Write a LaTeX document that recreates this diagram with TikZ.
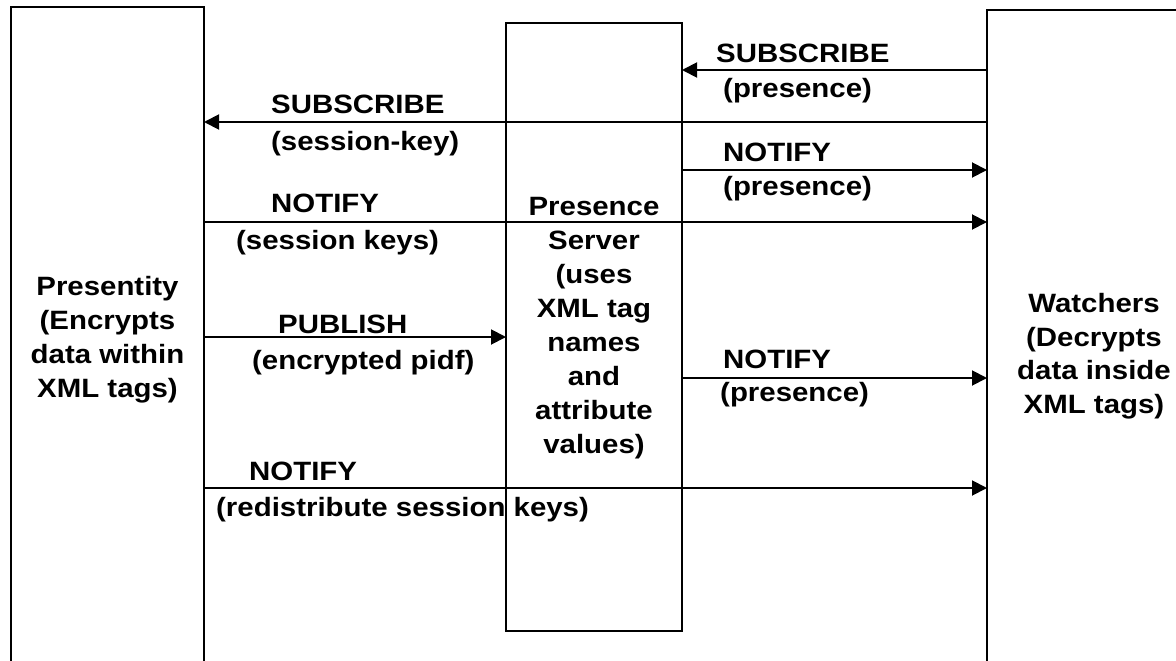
\documentclass[tikz,border=0pt]{standalone}
\usepackage{fontspec}
\setmainfont{Liberation Sans}[FakeStretch=1.11]
\usetikzlibrary{arrows.meta}
\begin{document}
\begin{tikzpicture}[x=1pt,y=-1pt,
  box/.style={draw, line width=1.9pt, inner sep=0pt, outer sep=0pt, anchor=north west},
  msg/.style={line width=1.9pt, -{Triangle[length=15pt,width=15pt]}},
  lbl/.style={font=\fontsize{26.5}{34}\bfseries\selectfont, align=left, inner sep=0pt, anchor=base west},
  boxtxt/.style={font=\fontsize{26.5}{34}\bfseries\selectfont, align=center, inner sep=0pt, anchor=base}]
\useasboundingbox (0,0) rectangle (1176,661);
\clip (0,0) rectangle (1176,661);
% boxes
\node[box, minimum width=193pt, minimum height=700pt] (pres) at (11,7) {};
\node[box, minimum width=176pt, minimum height=608pt] (ps) at (506,23) {};
\node[box, minimum width=250pt, minimum height=700pt] (wat) at (987,10) {};
% box texts (anchor = baseline of last line)
\node[boxtxt] (prest) at (107.5,397) {Presentity\\(Encrypts\\data within\\XML tags)};
\node[boxtxt] (pst) at (594,453) {Presence\\Server\\(uses\\XML tag\\names\\and\\attribute\\values)};
\node[boxtxt, font=\fontsize{26.5}{33.5}\bfseries\selectfont] (watt) at (1094,413) {Watchers\\(Decrypts\\data inside\\XML tags)};
% arrow levels
\coordinate (a1) at (0,70);
\coordinate (a2) at (0,122);
\coordinate (a3) at (0,170);
\coordinate (a4) at (0,222);
\coordinate (a5) at (0,337);
\coordinate (a6) at (0,378);
\coordinate (a7) at (0,488);
% arrows
\draw[msg] (wat.west |- a1) -- (ps.east |- a1);
\draw[msg] (wat.west |- a2) -- (pres.east |- a2);
\draw[msg] (ps.east |- a3) -- (wat.west |- a3);
\draw[msg] (pres.east |- a4) -- (wat.west |- a4);
\draw[msg] (pres.east |- a5) -- (ps.west |- a5);
\draw[msg] (ps.east |- a6) -- (wat.west |- a6);
\draw[msg] (pres.east |- a7) -- (wat.west |- a7);
% labels (anchor = baseline of second line)
\node[lbl] (l1) at (716,97) {SUBSCRIBE\\[1pt]\hspace*{7pt}(presence)};
\node[lbl] (l2) at (271,150) {SUBSCRIBE\\[3pt](session-key)};
\node[lbl] (l3) at (723,195) {NOTIFY\\[0pt](presence)};
\node[lbl] (l4) at (236,249) {\hspace*{35pt}NOTIFY\\[3pt](session keys)};
\node[lbl] (l5) at (252,369) {\hspace*{26pt}PUBLISH\\[2pt](encrypted pidf)};
\node[lbl] (l6) at (720,401) {\hspace*{3pt}NOTIFY\\[-1pt](presence)};
\node[lbl] (l7) at (216,516) {\hspace*{33pt}NOTIFY\\[2pt](redistribute session keys)};
\end{tikzpicture}
\end{document}
